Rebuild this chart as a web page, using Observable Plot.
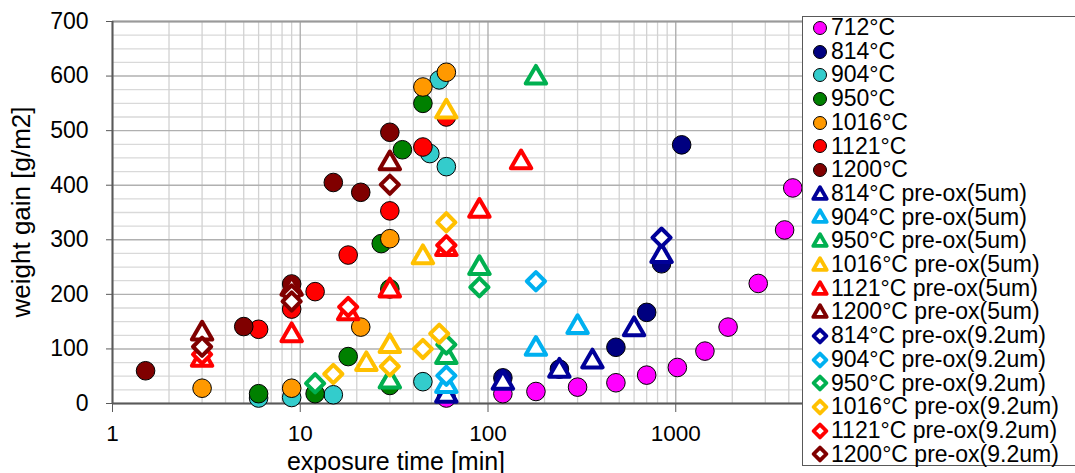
<!DOCTYPE html>
<html>
<head>
<meta charset="utf-8">
<script src="https://cdn.jsdelivr.net/npm/d3@7"></script>
<script src="https://cdn.jsdelivr.net/npm/@observablehq/plot@0.6"></script>
<style>
  html, body { margin: 0; padding: 0; background: #fff; overflow: hidden; }
  #wrap { position: relative; width: 1075px; height: 473px; font-family: "Liberation Sans", Arial, sans-serif; }
  #legend { position: absolute; left: 802px; top: 16px; width: 300px; height: 448px; border: 1px solid #595959; background: #fff; }
  .row { position: absolute; left: 0; height: 23.7px; line-height: 23.7px; font-size: 23px; color: #000; white-space: nowrap; }
  .row svg { position: absolute; left: 6px; top: 0.85px; overflow: visible; }
  .row span { position: absolute; left: 28px; top: 0; }
</style>
</head>
<body>
<div id="wrap"></div>
<script>
// ---- data: [exposure time (min), weight gain (g/m2)] ----
const c712  = [[60,10],[120,18],[180,22],[300,30],[480,38],[700,52],[1020,66],[1430,96],[1900,140],[2750,220],[3800,318],[4200,395]];
const c814  = [[120,47],[240,63],[480,103],[700,167],[840,256],[1075,474]];
const c904  = [[6,10],[9,11],[15,16],[45,40],[49,458],[55,593],[60,434]];
const c950  = [[6,18],[12,18],[18,86],[27,293],[30,210],[30,33],[35,465],[45,550]];
const c1016 = [[3,28],[9,28],[21,140],[30,302],[45,580],[60,607]];
const c1121 = [[6,136],[9,173],[12,205],[18,272],[30,353],[45,470],[60,525]];
const c1200 = [[1.5,60],[5,141],[9,219],[15,405],[21,387],[30,497]];

const t814  = [[60,14],[120,38],[240,60],[360,77],[600,136],[840,270]];
const t904  = [[60,32],[180,100],[300,140]];
const t950  = [[30,40],[60,85],[90,248],[180,597]];
const t1016 = [[22.5,72],[30,105],[45,268],[60,535]];
const t1121 = [[3,80],[9,125],[18,165],[30,207],[60,283],[90,353],[150,442]];
const t1200 = [[3,128],[9,210],[30,440]];

const d814  = [[840,304]];
const d904  = [[60,51],[180,224]];
const d950  = [[12,37],[60,108],[90,213]];
const d1016 = [[15,54],[30,68],[45,100],[55,128],[60,332]];
const d1121 = [[3,90],[18,177],[60,290]];
const d1200 = [[3,104],[9,200],[9,187],[30,401]];

const circleNames  = ["712°C","814°C","904°C","950°C","1016°C","1121°C","1200°C"];
const circleColors = ["#ff00ff","#000080","#33cccc","#008000","#ff9900","#ff0000","#800000"];
const circleData   = [c712, c814, c904, c950, c1016, c1121, c1200];

const preoxNames  = ["814°C","904°C","950°C","1016°C","1121°C","1200°C"];
const preoxColors = ["#000099","#00b0f0","#00b050","#ffc000","#ff0000","#800000"];
const triData     = [t814, t904, t950, t1016, t1121, t1200];
const diaData     = [d814, d904, d950, d1016, d1121, d1200];

const xTickLabels = [1, 10, 100, 1000];
const yTickLabels = [0, 100, 200, 300, 400, 500, 600, 700];
const xLabel = "exposure time [min]";
const yLabel = "weight gain [g/m2]";

// ---- grid helpers ----
const decades = [1, 10, 100, 1000, 10000];
const xMinor = [];
for (const d of decades.slice(0, 4)) for (let k = 2; k <= 9; k++) xMinor.push(d * k);
const yMinor = d3.range(25, 700, 25).filter(v => v % 100 !== 0);

const marks = [
  Plot.ruleY(yMinor, {stroke: "#d9d9d9", strokeWidth: 1.3}),
  Plot.ruleX(xMinor, {stroke: "#d2d2d2", strokeWidth: 1.3}),
  Plot.ruleY(yTickLabels, {stroke: "#b0b0b0", strokeWidth: 1.4}),
  Plot.ruleX(decades, {stroke: "#b0b0b0", strokeWidth: 1.4}),
  Plot.ruleY([700], {stroke: "#9a9a9a", strokeWidth: 2}),
  Plot.axisY(yTickLabels, {tickSize: 6, tickPadding: 18, stroke: "#595959", label: null, fontSize: 23}),
  Plot.axisX(xTickLabels, {tickSize: 9, tickPadding: 13, stroke: "#595959", label: null, fontSize: 22.5, tickFormat: d => String(d)}),
  Plot.ruleY([0], {stroke: "#595959", strokeWidth: 2}),
  Plot.ruleX([1], {stroke: "#595959", strokeWidth: 2})
];

circleData.forEach((data, i) => {
  marks.push(Plot.dot(data, {x: d => d[0], y: d => d[1], r: 9.3, fill: circleColors[i], stroke: "#000", strokeWidth: 1}));
});
triData.forEach((data, i) => {
  marks.push(Plot.dot(data, {x: d => d[0], y: d => d[1], r: 7.6, symbol: "triangle", fill: "#fff", stroke: preoxColors[i], strokeWidth: 4, strokeLinejoin: "round"}));
});
diaData.forEach((data, i) => {
  marks.push(Plot.dot(data, {x: d => d[0], y: d => d[1], r: 8.2, symbol: "diamond2", fill: "#fff", stroke: preoxColors[i], strokeWidth: 4, strokeLinejoin: "round"}));
});

const chart = Plot.plot({
  width: 1075,
  height: 473,
  marginLeft: 112,
  marginRight: 212,
  marginTop: 21,
  marginBottom: 70,
  x: {type: "log", domain: [1, 10000]},
  y: {domain: [0, 700]},
  style: {fontFamily: "'Liberation Sans', Arial, sans-serif", fontSize: "24px", color: "#000", background: "#fff", overflow: "visible"},
  marks
});

const wrap = document.getElementById("wrap");
wrap.appendChild(chart);

// tick label text: plain black, no outline
const svg = d3.select(chart);
svg.selectAll('g[aria-label$="tick label"]').attr("stroke", null).attr("fill", "#000");
svg.selectAll('g[aria-label$="tick label"] text').attr("stroke", null).attr("fill", "#000");

// axis titles
svg.append("text")
  .attr("x", 396).attr("y", 469.5)
  .attr("text-anchor", "middle")
  .attr("font-size", 25)
  .attr("fill", "#000")
  .text(xLabel);
svg.append("text")
  .attr("transform", "translate(30,212) rotate(-90)")
  .attr("text-anchor", "middle")
  .attr("font-size", 26)
  .attr("fill", "#000")
  .text(yLabel);

// legend
const legend = document.createElement("div");
legend.id = "legend";
wrap.appendChild(legend);
const entries = [];
circleNames.forEach((n, i) => entries.push({label: n, type: "circle", color: circleColors[i]}));
preoxNames.forEach((n, i) => entries.push({label: n + " pre-ox(5um)", type: "triangle", color: preoxColors[i]}));
preoxNames.forEach((n, i) => entries.push({label: n + " pre-ox(9.2um)", type: "diamond", color: preoxColors[i]}));

entries.forEach((e, i) => {
  const row = document.createElement("div");
  row.className = "row";
  row.style.top = (i * 23.7 - 1) + "px";
  let shape;
  if (e.type === "circle") {
    shape = `<circle cx="11" cy="11" r="6.5" fill="${e.color}" stroke="#000" stroke-width="1"/>`;
  } else if (e.type === "triangle") {
    const p = d3.symbol(d3.symbolTriangle, Math.PI * 5 * 5)();
    shape = `<path transform="translate(11,12)" d="${p}" fill="#fff" stroke="${e.color}" stroke-width="3.8" stroke-linejoin="round"/>`;
  } else {
    const p = d3.symbol(d3.symbolDiamond2, Math.PI * 5.8 * 5.8)();
    shape = `<path transform="translate(11,11)" d="${p}" fill="#fff" stroke="${e.color}" stroke-width="3.8" stroke-linejoin="round"/>`;
  }
  row.innerHTML = `<svg width="22" height="22">${shape}</svg><span>${e.label}</span>`;
  legend.appendChild(row);
});
</script>
</body>
</html>
